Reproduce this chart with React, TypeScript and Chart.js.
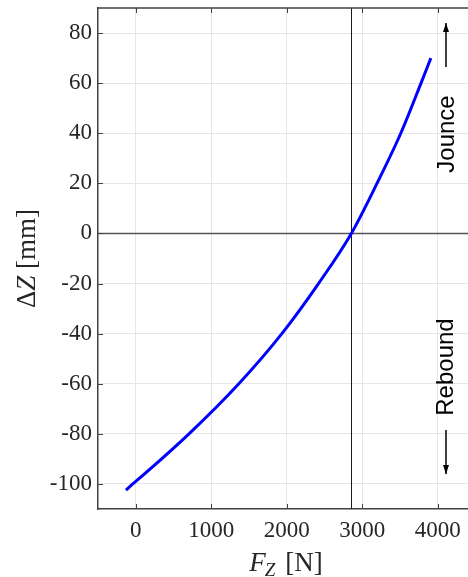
import React, { useEffect, useRef } from "react";
import { Chart, registerables } from "chart.js";

Chart.register(...registerables);

// Data
const forceN = [-130, -40, 0, 705, 1365, 1935, 2420, 2855, 3195, 3510, 3778, 3908];
const deltaZmm = [-102.5, -100, -99, -80, -60, -40, -20, 0, 20, 40, 60, 70];
const xTickValues = [0, 1000, 2000, 3000, 4000];
const yTickValues = [-100, -80, -60, -40, -20, 0, 20, 40, 60, 80];
const refForce = [2855];
const refDeltaZ = [0];
const xRange = [-500, 4400];
const yRange = [-110, 90];

const SERIF = '"Liberation Serif"';
const SANS = '"Liberation Sans"';
const AXIS_COLOR = "#404040";
const TEXT_COLOR = "#262626";

const decorPlugin = {
  id: "decor",
  beforeDatasetsDraw(chart: any) {
    const { ctx, chartArea: a, scales } = chart;
    const x = scales.x;
    const y = scales.y;
    ctx.save();
    ctx.strokeStyle = "#1a1a1a";
    ctx.lineWidth = 1;
    refForce.forEach((v) => {
      const px = Math.round(x.getPixelForValue(v)) + 0.5;
      ctx.beginPath();
      ctx.moveTo(px, a.top);
      ctx.lineTo(px, a.bottom);
      ctx.stroke();
    });
    ctx.strokeStyle = "#555555";
    ctx.lineWidth = 1.5;
    refDeltaZ.forEach((v) => {
      const py = y.getPixelForValue(v);
      ctx.beginPath();
      ctx.moveTo(a.left, py);
      ctx.lineTo(a.right, py);
      ctx.stroke();
    });
    ctx.restore();
  },
  afterDraw(chart: any) {
    const { ctx, chartArea: a, scales } = chart;
    const x = scales.x;
    const y = scales.y;
    ctx.save();
    // top border
    ctx.strokeStyle = AXIS_COLOR;
    ctx.lineWidth = 1.5;
    ctx.beginPath();
    ctx.moveTo(a.left, a.top);
    ctx.lineTo(a.right, a.top);
    ctx.stroke();
    // inward tick marks
    ctx.lineWidth = 1;
    const tl = 5;
    xTickValues.forEach((v) => {
      const px = Math.round(x.getPixelForValue(v)) + 0.5;
      ctx.beginPath();
      ctx.moveTo(px, a.bottom);
      ctx.lineTo(px, a.bottom - tl);
      ctx.moveTo(px, a.top);
      ctx.lineTo(px, a.top + tl);
      ctx.stroke();
    });
    yTickValues.forEach((v) => {
      const py = Math.round(y.getPixelForValue(v)) + 0.5;
      ctx.beginPath();
      ctx.moveTo(a.left, py);
      ctx.lineTo(a.left + tl, py);
      ctx.stroke();
    });

    // x axis title: F_Z [N]
    ctx.fillStyle = TEXT_COLOR;
    ctx.textBaseline = "alphabetic";
    ctx.textAlign = "left";
    const big = 27;
    const small = 19;
    const fItal = `italic ${big}px ${SERIF}`;
    const sItal = `italic ${small}px ${SERIF}`;
    const fReg = `${big}px ${SERIF}`;
    ctx.font = fItal;
    const wF = ctx.measureText("F").width;
    ctx.font = sItal;
    const wZ = ctx.measureText("Z").width;
    ctx.font = fReg;
    const wN = ctx.measureText(" [N]").width;
    const total = wF + wZ + wN + 2;
    const cx = (a.left + a.right) / 2 + 3;
    const base = 571;
    let sx = cx - total / 2;
    ctx.font = fItal;
    ctx.fillText("F", sx, base);
    sx += wF - 1;
    ctx.font = sItal;
    ctx.fillText("Z", sx, base + 5);
    sx += wZ + 3;
    ctx.font = fReg;
    ctx.fillText(" [N]", sx, base);

    // y axis title: ΔZ [mm]
    ctx.save();
    ctx.translate(35, (a.top + a.bottom) / 2);
    ctx.rotate(-Math.PI / 2);
    ctx.font = fReg;
    const wD = ctx.measureText("\u0394").width;
    ctx.font = fItal;
    const wZ2 = ctx.measureText("Z").width;
    ctx.font = fReg;
    const wMM = ctx.measureText(" [mm]").width;
    const tot2 = wD + wZ2 + wMM;
    let yx = -tot2 / 2;
    ctx.font = fReg;
    ctx.fillText("\u0394", yx, 0);
    yx += wD;
    ctx.font = fItal;
    ctx.fillText("Z", yx, 0);
    yx += wZ2;
    ctx.font = fReg;
    ctx.fillText(" [mm]", yx, 0);
    ctx.restore();

    // Jounce / Rebound annotations
    ctx.fillStyle = "#000000";
    ctx.strokeStyle = "#000000";
    ctx.font = `24px ${SANS}`;
    ctx.textAlign = "center";
    ctx.textBaseline = "middle";
    const ax = 446;
    const drawRot = (text: string, cxp: number, cyp: number) => {
      ctx.save();
      ctx.translate(cxp, cyp);
      ctx.rotate(-Math.PI / 2);
      ctx.fillText(text, 0, 0);
      ctx.restore();
    };
    drawRot("Jounce", ax + 1, 134);
    drawRot("Rebound", ax, 367);
    const arrow = (x0: number, yTail: number, yHead: number) => {
      ctx.lineWidth = 1.5;
      ctx.beginPath();
      ctx.moveTo(x0, yTail);
      ctx.lineTo(x0, yHead);
      ctx.stroke();
      const dir = yHead < yTail ? 1 : -1;
      ctx.beginPath();
      ctx.moveTo(x0, yHead);
      ctx.lineTo(x0 - 3, yHead + dir * 9);
      ctx.lineTo(x0 + 3, yHead + dir * 9);
      ctx.closePath();
      ctx.fill();
    };
    arrow(ax, 67, 23);
    arrow(ax, 430, 474);
    ctx.restore();
  },
};

export default function App() {
  const canvasRef = useRef<HTMLCanvasElement | null>(null);

  useEffect(() => {
    document.body.style.margin = "0";
    const canvas = canvasRef.current;
    if (!canvas) return;
    let chart: any = null;
    let cancelled = false;
    const build = () => {
      if (cancelled) return;
      chart = new Chart(canvas, {
        type: "scatter",
        data: {
          datasets: [
            {
              data: forceN.map((f, i) => ({ x: f, y: deltaZmm[i] })),
              showLine: true,
              borderColor: "#0000ff",
              backgroundColor: "#0000ff",
              borderWidth: 3,
              pointRadius: 0,
              cubicInterpolationMode: "monotone",
              fill: false,
            },
          ],
        },
        options: {
          responsive: false,
          animation: false,
          events: [],
          layout: { padding: { top: 8, right: 0, left: 0, bottom: 0 } },
          plugins: {
            legend: { display: false },
            tooltip: { enabled: false },
            title: { display: false },
          },
          scales: {
            x: {
              type: "linear",
              min: xRange[0],
              max: xRange[1],
              afterBuildTicks: (s: any) => {
                s.ticks = xTickValues.map((v) => ({ value: v }));
              },
              afterFit: (s: any) => {
                s.height = 68;
                s.paddingLeft = 0;
                s.paddingRight = 0;
                s.paddingTop = 0;
                s.paddingBottom = 0;
              },
              ticks: {
                font: { family: SERIF, size: 23 },
                color: TEXT_COLOR,
                padding: 8,
                maxRotation: 0,
                autoSkip: false,
                callback: (v: any) => String(v),
              },
              grid: { color: "#e6e6e6", drawTicks: false, lineWidth: 1 },
              border: { color: AXIS_COLOR, width: 1.5 },
            },
            y: {
              type: "linear",
              min: yRange[0],
              max: yRange[1],
              afterBuildTicks: (s: any) => {
                s.ticks = yTickValues.map((v) => ({ value: v }));
              },
              afterFit: (s: any) => {
                s.width = 98;
                s.paddingLeft = 0;
                s.paddingRight = 0;
                s.paddingTop = 0;
                s.paddingBottom = 0;
              },
              ticks: {
                font: { family: SERIF, size: 23 },
                color: TEXT_COLOR,
                padding: 6,
                autoSkip: false,
                callback: (v: any) => String(v),
              },
              grid: { color: "#e6e6e6", drawTicks: false, lineWidth: 1 },
              border: { color: AXIS_COLOR, width: 1.5 },
            },
          },
        },
        plugins: [decorPlugin],
      } as any);
    };
    const loads = [
      `23px ${SERIF}`,
      `27px ${SERIF}`,
      `italic 27px ${SERIF}`,
      `24px ${SANS}`,
    ].map((f) => (document as any).fonts.load(f).catch(() => null));
    Promise.all(loads).then(build, build);
    return () => {
      cancelled = true;
      if (chart) chart.destroy();
    };
  }, []);

  return (
    <div style={{ width: 468, height: 577 }}>
      <canvas ref={canvasRef} width={468} height={577} style={{ display: "block" }} />
    </div>
  );
}
